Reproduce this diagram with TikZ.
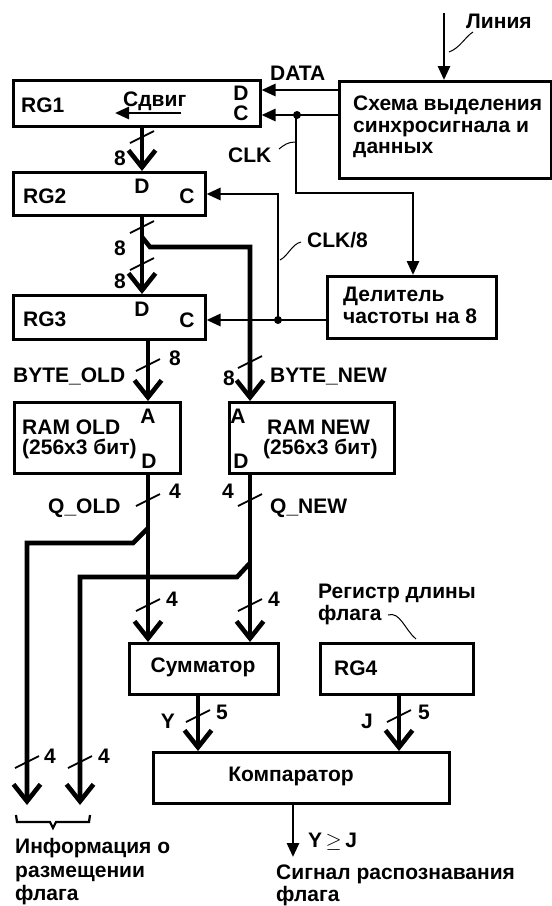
\documentclass[tikz,border=0pt]{standalone}
\usepackage{fontspec}
\setmainfont{Liberation Sans}
\usetikzlibrary{arrows.meta,calc}
\tikzset{
  box/.style={draw, line width=2.5pt, anchor=north west, inner sep=0pt},
  bus/.style={line width=4.6pt, line join=miter, -{Straight Barb[length=17pt,width=27pt]}},
  sig/.style={line width=2.8pt, -{Triangle[length=14pt,width=12pt]}},
  wire/.style={line width=2.8pt},
  slash/.style={line width=1.8pt},
  lead/.style={line width=1pt},
  lbl/.style={anchor=base west},
  clbl/.style={anchor=base},
}
\begin{document}
\begin{tikzpicture}[x=1pt,y=-1pt,
  every node/.style={font=\fontsize{21}{22}\selectfont\bfseries, inner sep=0pt}]
\useasboundingbox (0,0) rectangle (552,906);

% ---- boxes
\node[box, minimum width=247pt, minimum height=46pt] (rg1) at (12,79) {};
\node[box, minimum width=212pt, minimum height=97pt] (sch) at (338,80) {};
\node[box, minimum width=192pt, minimum height=43pt] (rg2) at (12,171) {};
\node[box, minimum width=192pt, minimum height=44pt] (rg3) at (12,294) {};
\node[box, minimum width=169pt, minimum height=62pt] (div) at (326,275) {};
\node[box, minimum width=166pt, minimum height=71pt] (ramo) at (13,401) {};
\node[box, minimum width=165pt, minimum height=71pt] (ramn) at (228,401) {};
\node[box, minimum width=149pt, minimum height=51pt] (sum) at (128,642) {};
\node[box, minimum width=153pt, minimum height=51pt] (rg4) at (319,642) {};
\node[box, minimum width=296pt, minimum height=51pt] (cmp) at (152,751) {};

% ---- texts in boxes
\node[lbl] (trg1) at (21,112) {RG1};
\node[lbl] (tsd) at (123,106) {Сдвиг};
\node[clbl] (trg1d) at (241,100) {D};
\node[clbl] (trg1c) at (241,120) {C};
\node[lbl] (tsch1) at (353,110) {Схема выделения};
\node[lbl] (tsch2) at (353,132) {синхросигнала и};
\node[lbl] (tsch3) at (353,153) {данных};
\node[lbl] (trg2) at (23,203) {RG2};
\node[clbl] (trg2d) at (142,193) {D};
\node[clbl] (trg2c) at (187,203) {C};
\node[lbl] (trg3) at (23,326) {RG3};
\node[clbl] (trg3d) at (142,316) {D};
\node[clbl] (trg3c) at (187,327) {C};
\node[lbl] (tdiv1) at (343,301) {Делитель};
\node[lbl] (tdiv2) at (343,323) {частоты на 8};
\node[lbl] (tro1) at (22,434) {RAM OLD};
\node[lbl] (tro2) at (22,454) {(256x3 бит)};
\node[clbl] (troa) at (148,423) {A};
\node[clbl] (trod) at (149,468) {D};
\node[lbl] (trn1) at (267,434) {RAM NEW};
\node[lbl] (trn2) at (263,454) {(256x3 бит)};
\node[clbl] (trna) at (238,423) {A};
\node[clbl] (trnd) at (241,468) {D};
\node (tsum) at (203,667) {Сумматор};
\node[lbl] (trg4) at (334,675) {RG4};
\node (tcmp) at (291,776) {Компаратор};

% ---- free texts
\node[lbl] (tlin) at (466,28) {Линия};
\node[lbl] (tdata) at (270,80) {DATA};
\node[lbl] (tclk) at (228,162) {CLK};
\node[lbl] (tclk8) at (307,247) {CLK/8};
\node[lbl] (tbo) at (13,382) {BYTE\_OLD};
\node[lbl] (tbn) at (270,382) {BYTE\_NEW};
\node[lbl] (tqo) at (48,513) {Q\_OLD};
\node[lbl] (tqn) at (270,513) {Q\_NEW};
\node[lbl] (treg1) at (318,598) {Регистр длины};
\node[lbl] (treg2) at (318,620) {флага};
\node[lbl] (tinf1) at (15,853) {Информация о};
\node[lbl] (tinf2) at (15,877) {размещении};
\node[lbl] (tinf3) at (15,900) {флага};
\node[lbl] (tyj) at (308,847) {Y\,{\mdseries$\geq$}\,J};
\node[lbl] (tsig1) at (276,879) {Сигнал распознавания};
\node[lbl] (tsig2) at (276,901) {флага};

% width labels
\node[clbl] (n8a) at (120,165) {8};
\node[clbl] (n8b) at (120,255) {8};
\node[clbl] (n8c) at (120,288) {8};
\node[clbl] (n8d) at (175,365) {8};
\node[clbl] (n8e) at (229,385) {8};
\node[clbl] (n4a) at (175,498) {4};
\node[clbl] (n4b) at (228,498) {4};
\node[clbl] (n4c) at (172,606) {4};
\node[clbl] (n4d) at (274,606) {4};
\node[clbl] (n5a) at (222,719) {5};
\node[clbl] (n5b) at (424,719) {5};
\node[clbl] (nY) at (168,728) {Y};
\node[clbl] (nJ) at (367,728) {J};
\node[clbl] (n4e) at (50,763) {4};
\node[clbl] (n4f) at (104,763) {4};

% ---- coordinates
\coordinate (xa) at (142,0);
\coordinate (xb) at (148,0);
\coordinate (xc) at (250,0);
\coordinate (xd) at (198,0);
\coordinate (xe) at (399,0);
\coordinate (xo) at (293,0);
\coordinate (xline) at (444,0);
\coordinate (lin) at (444,13);
\coordinate (ydata) at (0,90);
\coordinate (yclk) at (0,115);
\coordinate (dotA) at (297,115);
\coordinate (kb) at (413,193);
\coordinate (dotB) at (278,320);
\coordinate (c8top) at (278,194);
\coordinate (br1) at (142,237);
\coordinate (br2) at (150,247);
\coordinate (bl1) at (148,528);
\coordinate (bl2) at (133,543);
\coordinate (bl3) at (27,543);
\coordinate (outL) at (27,805);
\coordinate (bm1) at (250,563);
\coordinate (bm2) at (237,577);
\coordinate (bm3) at (80,577);
\coordinate (outR) at (80,805);
\coordinate (outC) at (293,857);
\coordinate (sd1) at (181,113);
\coordinate (sd2) at (115,113);

% ---- signal lines
\draw[sig] (lin) -- (sch.north -| xline);
\draw[sig] (sch.west |- ydata) -- (rg1.east |- ydata);
\draw[sig] (sch.west |- yclk) -- (rg1.east |- yclk);
\fill (dotA) circle (4);
\draw[sig] (dotA -| 296,0) |- (kb) -- (div.north -| kb);
\draw[sig] (div.west |- dotB) -- (rg3.east |- dotB);
\fill (dotB) circle (4);
\draw[sig] (dotB) |- (rg2.east |- c8top);
\draw[sig] (sd1) -- (sd2);
\draw[sig] (cmp.south -| xo) -- (outC);

% ---- buses
\draw[bus] (rg1.south -| xa) -- (rg2.north -| xa);
\draw[bus] (rg2.south -| xa) -- (rg3.north -| xa);
\draw[bus] (br1) -- (br2) -- (br2 -| xc) -- (ramn.north -| xc);
\draw[bus] (rg3.south -| xb) -- (ramo.north -| xb);
\draw[bus] (ramo.south -| xb) -- (sum.north -| xb);
\draw[bus] (ramn.south -| xc) -- (sum.north -| xc);
\draw[bus] (bl1) -- (bl2) -- (bl3) -- (outL);
\draw[bus] (bm1) -- (bm2) -- (bm3) -- (outR);
\draw[bus] (sum.south -| xd) -- (cmp.north -| xd);
\draw[bus] (rg4.south -| xe) -- (cmp.north -| xe);

% ---- slashes
\foreach \p in {(142,137),(142,227),(142,264),(148,365),(250,362),(148,500),(250,500),(148,605),(250,605),(198,716),(399,716),(27,762),(80,762)}
  \draw[slash, shift={\p}] (-12,6) -- (12,-6);

% ---- leaders
\draw[lead] (449,52) .. controls (460,48) and (465,37) .. (473,32);
\draw[lead] (279,149) .. controls (284,145) and (288,142) .. (295,142);
\draw[lead] (280,260) .. controls (288,256) and (292,244) .. (301,242);
\draw[lead] (388,615) .. controls (400,611) and (405,630) .. (416,639);

% ---- brace
\draw[line width=2.2pt, line join=miter] (16,815) -- (17,822) -- (50,822) -- (53,828) -- (56,822) -- (89,822) -- (90,815);
\end{tikzpicture}
\end{document}
